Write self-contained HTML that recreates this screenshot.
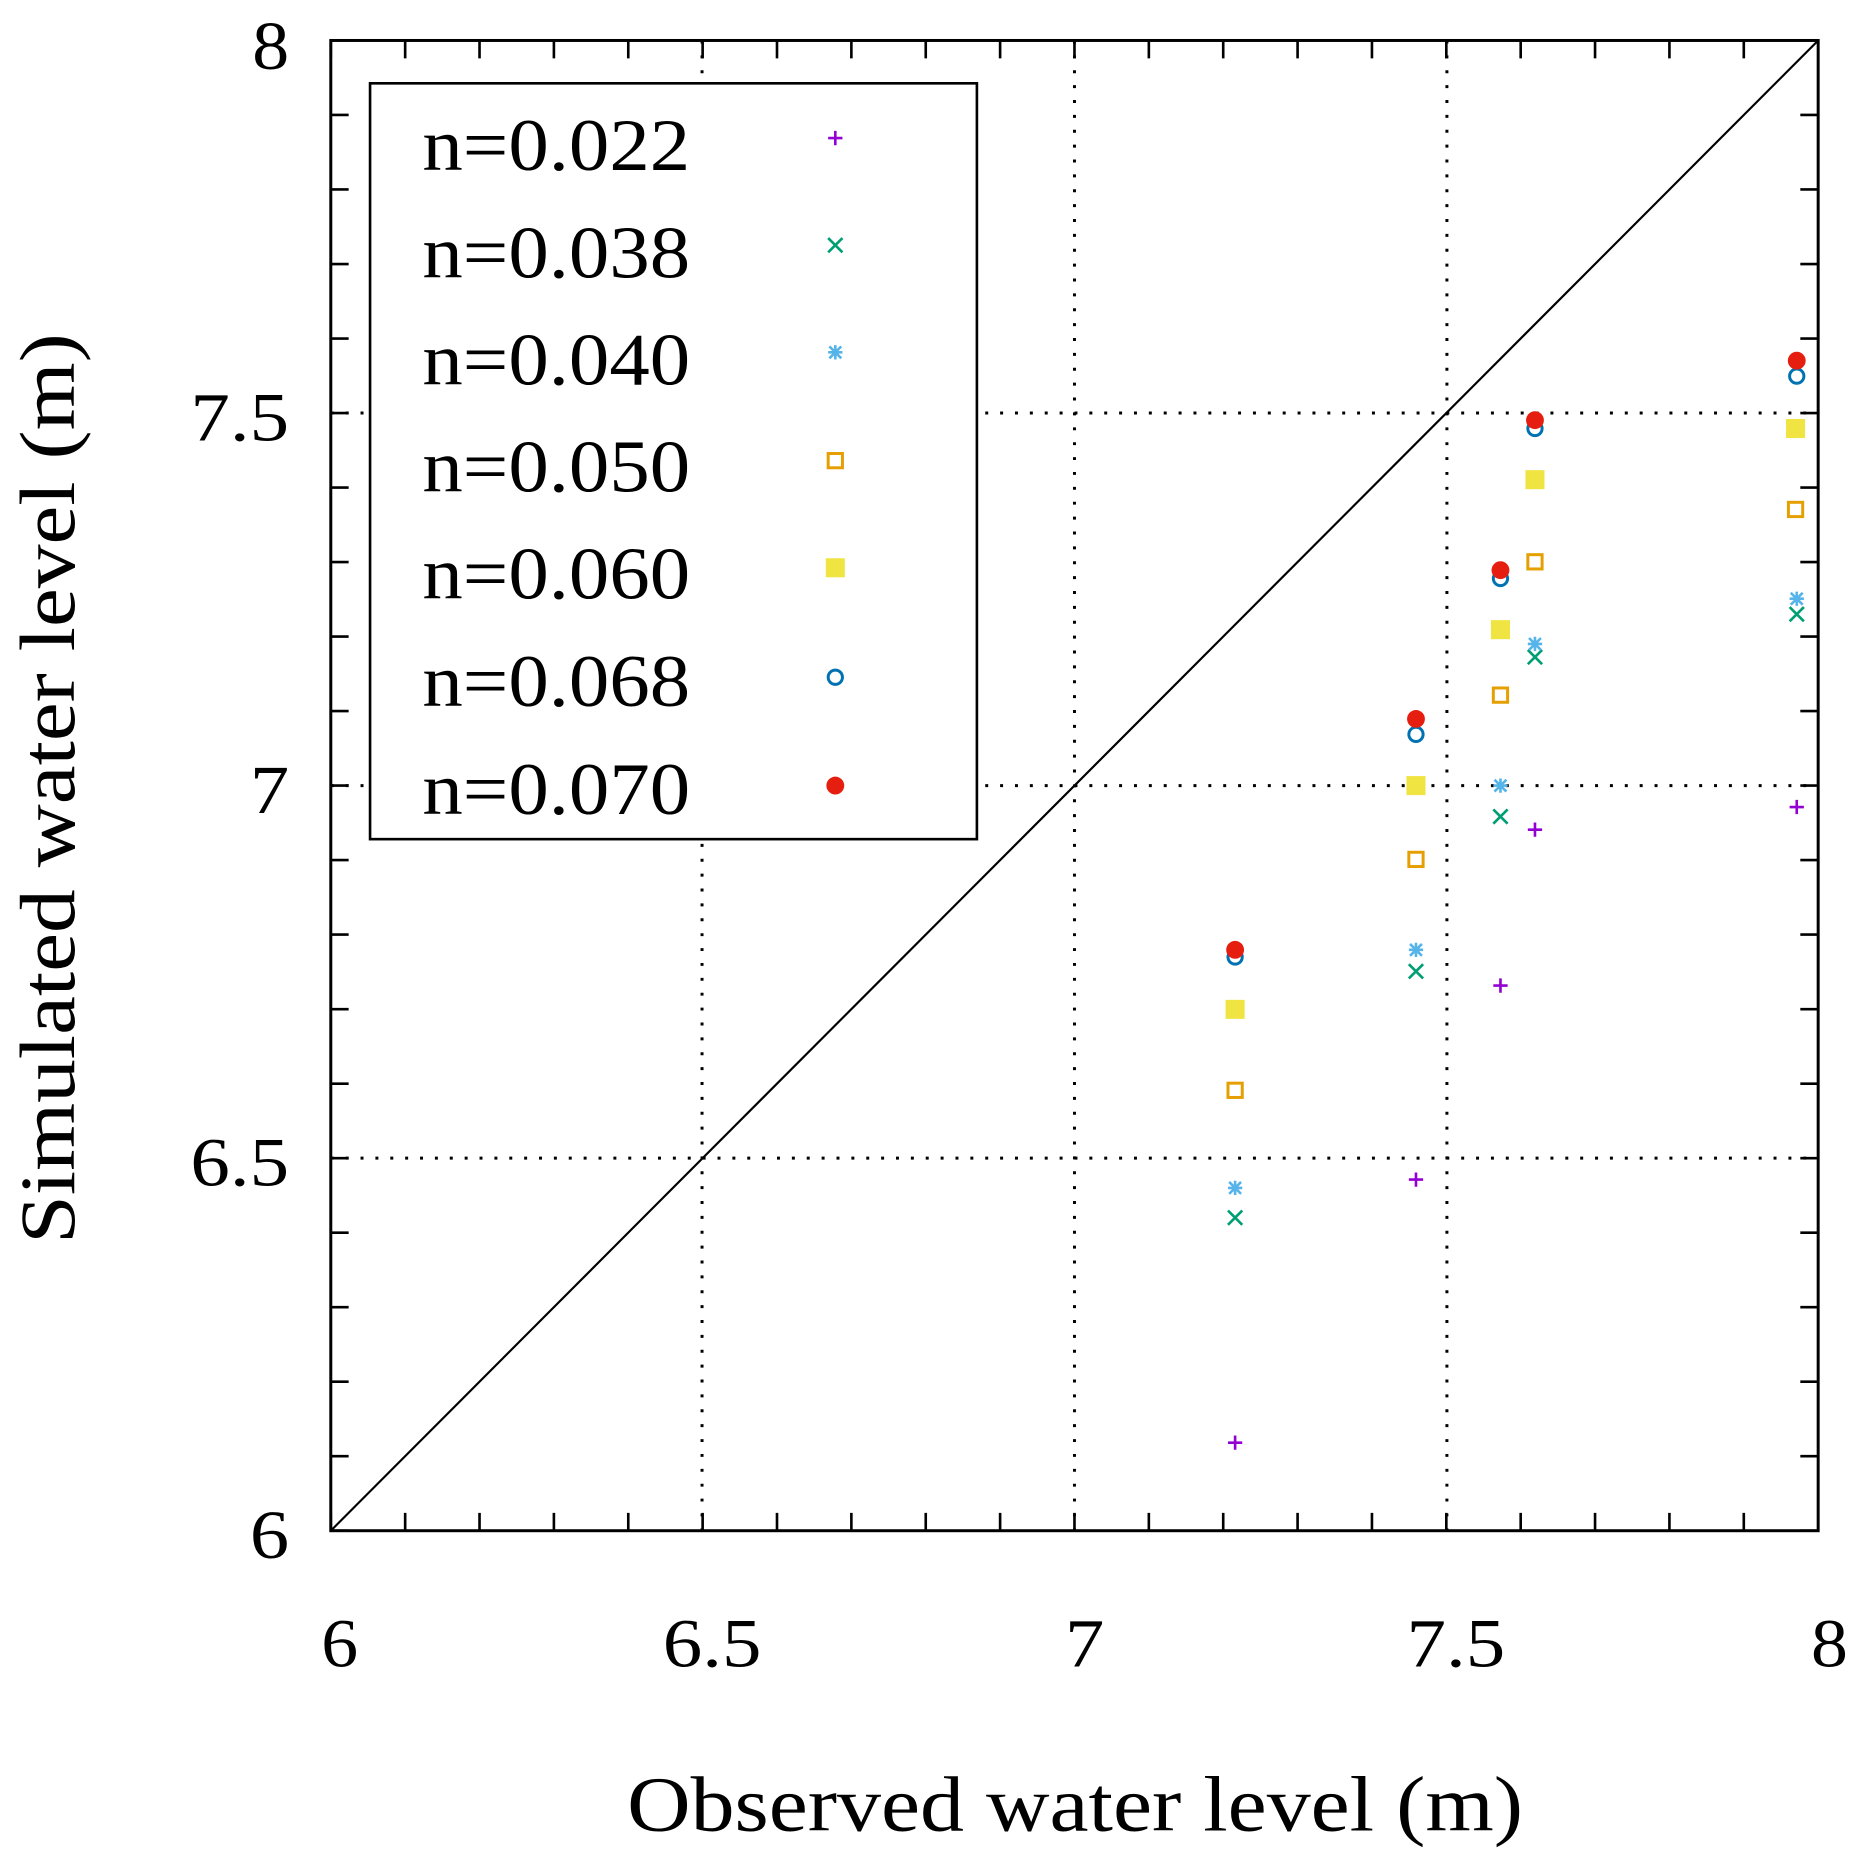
<!DOCTYPE html>
<html><head><meta charset="utf-8"><style>html,body{margin:0;padding:0;background:#fff}svg{display:block}</style></head>
<body>
<svg width="1861" height="1864" viewBox="0 0 1564 1566" preserveAspectRatio="none" xmlns="http://www.w3.org/2000/svg">
<defs>
<g id="plus"><path d="M-6,0H6M0,-6V6" stroke-width="2.2"/></g>
<g id="cross"><path d="M-6,-6L6,6M-6,6L6,-6" stroke-width="2.2"/></g>
<g id="star"><path d="M-6,0H6M0,-6V6M-5,-5L5,5M-5,5L5,-5" stroke-width="2.2"/></g>
</defs>
<g stroke="#000" stroke-width="2.5" stroke-dasharray="2.5,10" fill="none">
<line x1="590" y1="34" x2="590" y2="1286"/>
<line x1="903" y1="34" x2="903" y2="1286"/>
<line x1="1216" y1="34" x2="1216" y2="1286"/>
<line x1="278" y1="973" x2="1528" y2="973"/>
<line x1="278" y1="660" x2="1528" y2="660"/>
<line x1="278" y1="347" x2="1528" y2="347"/>
</g>
<rect x="278" y="34" width="1250" height="1252" fill="none" stroke="#000" stroke-width="2.5"/>
<g stroke="#000" stroke-width="2.2">
<path d="M278,1286V1271M278,34V49M340.5,1286V1271M340.5,34V49M403,1286V1271M403,34V49M465.5,1286V1271M465.5,34V49M528,1286V1271M528,34V49M590.5,1286V1271M590.5,34V49M653,1286V1271M653,34V49M715.5,1286V1271M715.5,34V49M778,1286V1271M778,34V49M840.5,1286V1271M840.5,34V49M903,1286V1271M903,34V49M965.5,1286V1271M965.5,34V49M1028,1286V1271M1028,34V49M1090.5,1286V1271M1090.5,34V49M1153,1286V1271M1153,34V49M1215.5,1286V1271M1215.5,34V49M1278,1286V1271M1278,34V49M1340.5,1286V1271M1340.5,34V49M1403,1286V1271M1403,34V49M1465.5,1286V1271M1465.5,34V49"/>
<path d="M278,1286H293M1528,1286H1513M278,1223.4H293M1528,1223.4H1513M278,1160.8H293M1528,1160.8H1513M278,1098.2H293M1528,1098.2H1513M278,1035.6H293M1528,1035.6H1513M278,973H293M1528,973H1513M278,910.4H293M1528,910.4H1513M278,847.8H293M1528,847.8H1513M278,785.2H293M1528,785.2H1513M278,722.6H293M1528,722.6H1513M278,660H293M1528,660H1513M278,597.4H293M1528,597.4H1513M278,534.8H293M1528,534.8H1513M278,472.2H293M1528,472.2H1513M278,409.6H293M1528,409.6H1513M278,347H293M1528,347H1513M278,284.4H293M1528,284.4H1513M278,221.8H293M1528,221.8H1513M278,159.2H293M1528,159.2H1513M278,96.6H293M1528,96.6H1513"/>
</g>
<line x1="278" y1="1286" x2="1528" y2="34" stroke="#000" stroke-width="1.8"/>
<rect x="311" y="70" width="510" height="635" fill="#fff" stroke="#000" stroke-width="2.2"/>
<g font-family="Liberation Serif, serif" font-size="62" fill="#000" lengthAdjust="spacingAndGlyphs">
<text x="355" y="143" textLength="225" lengthAdjust="spacingAndGlyphs">n=0.022</text>
<text x="355" y="233" textLength="225" lengthAdjust="spacingAndGlyphs">n=0.038</text>
<text x="355" y="323" textLength="225" lengthAdjust="spacingAndGlyphs">n=0.040</text>
<text x="355" y="413" textLength="225" lengthAdjust="spacingAndGlyphs">n=0.050</text>
<text x="355" y="503" textLength="225" lengthAdjust="spacingAndGlyphs">n=0.060</text>
<text x="355" y="593" textLength="225" lengthAdjust="spacingAndGlyphs">n=0.068</text>
<text x="355" y="684" textLength="225" lengthAdjust="spacingAndGlyphs">n=0.070</text>
</g>
<g font-family="Liberation Serif, serif" font-size="58" fill="#000">
<text x="212" y="58" textLength="31" lengthAdjust="spacingAndGlyphs">8</text>
<text x="160" y="370" textLength="83" lengthAdjust="spacingAndGlyphs">7.5</text>
<text x="210" y="683" textLength="33" lengthAdjust="spacingAndGlyphs">7</text>
<text x="160" y="996" textLength="83" lengthAdjust="spacingAndGlyphs">6.5</text>
<text x="210" y="1309" textLength="33" lengthAdjust="spacingAndGlyphs">6</text>
<text x="270" y="1400" textLength="31" lengthAdjust="spacingAndGlyphs">6</text>
<text x="557" y="1400" textLength="83" lengthAdjust="spacingAndGlyphs">6.5</text>
<text x="895" y="1400" textLength="33" lengthAdjust="spacingAndGlyphs">7</text>
<text x="1182" y="1400" textLength="83" lengthAdjust="spacingAndGlyphs">7.5</text>
<text x="1522" y="1400" textLength="31" lengthAdjust="spacingAndGlyphs">8</text>
</g>
<text x="527" y="1538" font-family="Liberation Serif, serif" font-size="66" textLength="753" lengthAdjust="spacingAndGlyphs">Observed water level (m)</text>
<text transform="translate(62,1045) rotate(-90)" font-family="Liberation Serif, serif" font-size="66" textLength="765" lengthAdjust="spacingAndGlyphs">Simulated water level (m)</text>
<g stroke="#9400d3" fill="none">
<use href="#plus" x="702" y="116"/><use href="#plus" x="1038" y="1212"/><use href="#plus" x="1190" y="991"/><use href="#plus" x="1261" y="828"/><use href="#plus" x="1290" y="697"/><use href="#plus" x="1510" y="678"/>
</g>
<g stroke="#009e73" fill="none">
<use href="#cross" x="702" y="206"/><use href="#cross" x="1038" y="1023"/><use href="#cross" x="1190" y="816"/><use href="#cross" x="1261" y="686"/><use href="#cross" x="1290" y="552"/><use href="#cross" x="1510" y="516"/>
</g>
<g stroke="#56b4e9" fill="none">
<use href="#star" x="702" y="296"/><use href="#star" x="1038" y="998"/><use href="#star" x="1190" y="798"/><use href="#star" x="1261" y="660"/><use href="#star" x="1290" y="541"/><use href="#star" x="1510" y="503"/>
</g>
<g stroke="#e69f00" stroke-width="2.5" fill="none">
<rect x="696" y="381" width="12" height="12"/><rect x="1032" y="910" width="12" height="12"/><rect x="1184" y="716" width="12" height="12"/><rect x="1255" y="578" width="12" height="12"/><rect x="1284" y="466" width="12" height="12"/><rect x="1503" y="422" width="12" height="12"/>
</g>
<g fill="#f0e442">
<rect x="694" y="469" width="16" height="16"/><rect x="1030" y="840" width="16" height="16"/><rect x="1182" y="652" width="16" height="16"/><rect x="1253" y="521" width="16" height="16"/><rect x="1282" y="395" width="16" height="16"/><rect x="1501" y="352" width="16" height="16"/>
</g>
<g stroke="#0072b2" stroke-width="2.5" fill="none">
<circle cx="702" cy="569" r="6"/><circle cx="1038" cy="804" r="6"/><circle cx="1190" cy="617" r="6"/><circle cx="1261" cy="486" r="6"/><circle cx="1290" cy="360" r="6"/><circle cx="1510" cy="316" r="6"/>
</g>
<g fill="#e51e10">
<circle cx="702" cy="660" r="7.5"/><circle cx="1038" cy="798" r="7.5"/><circle cx="1190" cy="604" r="7.5"/><circle cx="1261" cy="479" r="7.5"/><circle cx="1290" cy="353" r="7.5"/><circle cx="1510" cy="303" r="7.5"/>
</g>
</svg>
</body></html>
